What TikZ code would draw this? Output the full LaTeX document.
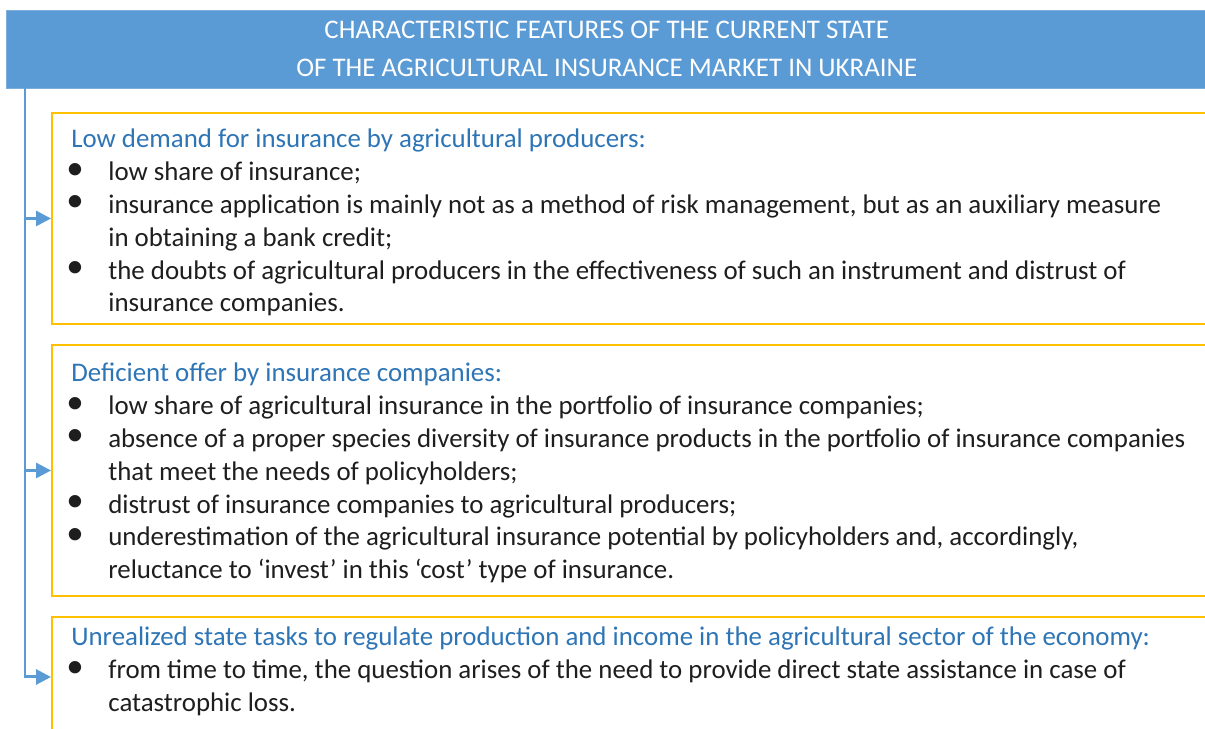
\documentclass[tikz,border=0pt]{standalone}
\usepackage{fontspec}
\usepackage{array}
\setmainfont{Carlito}
\usetikzlibrary{arrows.meta}

\newdimen\pxu \pxu=0.02cm
\definecolor{hdrblue}{HTML}{5B9BD5}
\definecolor{ttlblue}{HTML}{2E75B6}
\definecolor{boxgold}{HTML}{FFC000}
\definecolor{txtdark}{HTML}{1E1E1E}

\newcommand{\bul}{\hspace*{-5\pxu}\raisebox{1pt}{\scalebox{1.3}{\textbullet}}}
\newcommand{\ttl}[1]{\multicolumn{2}{@{}l@{}}{\color{ttlblue}#1}}

\tikzset{
  hdrbox/.style={draw=hdrblue!80!white, fill=hdrblue, text=white,
    anchor=north west, minimum width=24.02cm, minimum height=1.56cm,
    align=center, font=\fontsize{15.3}{21.6}\selectfont},
  featbox/.style={draw=boxgold, line width=0.04cm, anchor=north west,
    minimum width=23.4cm, inner sep=0pt},
  feattext/.style={anchor=base west, inner sep=0pt, text=txtdark,
    font=\fontsize{15.3}{18.65}\selectfont},
  link/.style={draw=hdrblue, line width=0.06cm},
  linkarrow/.style={link, -{Triangle[length=0.3cm, width=0.3cm]}}
}

\begin{document}
\begin{tikzpicture}[x=0.02cm, y=-0.02cm]
    \useasboundingbox (0,0) rectangle (1205,729);

    \node[hdrbox] (hdr) at (6,10) {CHARACTERISTIC FEATURES OF THE CURRENT STATE\\
      OF THE AGRICULTURAL INSURANCE MARKET IN UKRAINE};

    \node[featbox, minimum height=4.22cm] (box1) at (51,112) {};
    \node[featbox, minimum height=5.02cm] (box2) at (51,344) {};
    \node[featbox, minimum height=2.4cm] (box3) at (51,616) {};

    \node[feattext] (txt1) at (71,148) {\begin{tabular}[t]{@{}p{37\pxu}@{}l@{}}
      \ttl{Low demand for insurance by agricultural producers:}\\
      \bul & low share of insurance;\\
      \bul & insurance application is mainly not as a method of risk management, but as an auxiliary measure\\
           & in obtaining a bank credit;\\
      \bul & the doubts of agricultural producers in the effectiveness of such an instrument and distrust of\\
           & insurance companies.
    \end{tabular}};

    \node[feattext] (txt2) at (71,382) {\begin{tabular}[t]{@{}p{37\pxu}@{}l@{}}
      \ttl{Deficient offer by insurance companies:}\\
      \bul & low share of agricultural insurance in the portfolio of insurance companies;\\
      \bul & absence of a proper species diversity of insurance products in the portfolio of insurance companies\\
           & that meet the needs of policyholders;\\
      \bul & distrust of insurance companies to agricultural producers;\\
      \bul & underestimation of the agricultural insurance potential by policyholders and, accordingly,\\
           & reluctance to `invest' in this `cost' type of insurance.
    \end{tabular}};

    \node[feattext] (txt3) at (71,646) {\begin{tabular}[t]{@{}p{37\pxu}@{}l@{}}
      \ttl{Unrealized state tasks to regulate production and income in the agricultural sector of the economy:}\\
      \bul & from time to time, the question arises of the need to provide direct state assistance in case of\\
           & catastrophic loss.
    \end{tabular}};

    \coordinate (spine) at (25,88);
    \draw[linkarrow] (spine) |- (box3.west);
    \draw[linkarrow] (box1.west -| spine) -- (box1.west);
    \draw[linkarrow] (box2.west -| spine) -- (box2.west);
\end{tikzpicture}
\end{document}
